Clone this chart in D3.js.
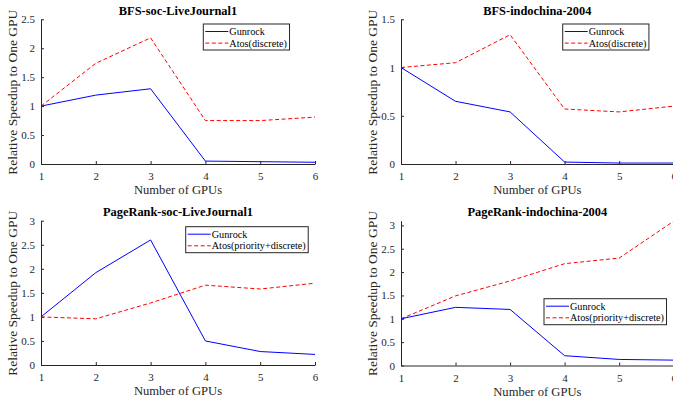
<!DOCTYPE html>
<html>
<head>
<meta charset="utf-8">
<script src="https://cdn.jsdelivr.net/npm/d3@7"></script>
<style>
  body { margin: 0; background: #fff; }
  svg { display: block; }
</style>
</head>
<body>
<div id="vis-container"></div>
<script>
(() => {

    ////////////////////////////////////
    /////////////// Data ///////////////
    ////////////////////////////////////

    const gpus = [1, 2, 3, 4, 5, 6]

    const bfsLjGunrock = [1.0, 1.19, 1.30, 0.05, 0.04, 0.03]
    const bfsLjAtos = [1.0, 1.74, 2.18, 0.75, 0.75, 0.81]

    const bfsIndoGunrock = [1.0, 0.65, 0.54, 0.02, 0.01, 0.01]
    const bfsIndoAtos = [1.0, 1.05, 1.34, 0.57, 0.54, 0.60]

    const prLjGunrock = [1.0, 1.92, 2.60, 0.50, 0.28, 0.22]
    const prLjAtos = [1.0, 0.96, 1.29, 1.66, 1.58, 1.70]

    const prIndoGunrock = [1.0, 1.245, 1.20, 0.21, 0.13, 0.115]
    const prIndoAtos = [1.0, 1.49, 1.81, 2.18, 2.30, 3.09]

    const titles = ['BFS-soc-LiveJournal1', 'BFS-indochina-2004', 'PageRank-soc-LiveJournal1', 'PageRank-indochina-2004']
    const atosNames = ['Atos(discrete)', 'Atos(discrete)', 'Atos(priority+discrete)', 'Atos(priority+discrete)']
    const yMax = [2.5, 1.5, 3, 3.1]
    const yTicks = [
        [0, 0.5, 1, 1.5, 2, 2.5],
        [0, 0.5, 1, 1.5],
        [0, 0.5, 1, 1.5, 2, 2.5, 3],
        [0, 0.5, 1, 1.5, 2, 2.5, 3]
    ]

    ////////////////////////////////////
    ///////////// SVG Setup ////////////
    ////////////////////////////////////

    const svgWidth = 673
    const svgHeight = 400

    const svg = d3.select('#vis-container')
        .append('svg')
        .attr('width', svgWidth)
        .attr('height', svgHeight)

    const FONT = "'Liberation Serif', 'Times New Roman', serif"
    const axisColor = '#262626'

    // plot area of each panel + legend placement (px, relative to plot area)
    const panels = [
        { left: 41, top: 19.3, bottom: 164, w: 274, gun: bfsLjGunrock, atos: bfsLjAtos, legX: 162.3, legY: 4.7 },
        { left: 401, top: 19.3, bottom: 164, w: 272.7, gun: bfsIndoGunrock, atos: bfsIndoAtos, legX: 161.7, legY: 4.7 },
        { left: 41, top: 220.7, bottom: 365, w: 274, gun: prLjGunrock, atos: prLjAtos, legX: 144.7, legY: 6 },
        { left: 401, top: 220.7, bottom: 365.5, w: 272.7, gun: prIndoGunrock, atos: prIndoAtos, legX: 143, legY: 78 }
    ]

    ////////////////////////////////////
    ///////////// Panels ///////////////
    ////////////////////////////////////

    panels.forEach((p, i) => {
        const h = p.bottom - p.top
        const plotWidth = p.w
        const g = svg.append('g')
            .attr('transform', `translate(${p.left},${p.top})`)

        let xScale = d3.scaleLinear()
            .domain([1, 6])
            .range([0, plotWidth])

        let yScale = d3.scaleLinear()
            .domain([0, yMax[i]])
            .range([h, 0])

        // axes, ticks pointing inwards
        let xAxis = d3.axisBottom(xScale)
            .tickValues(gpus)
            .tickFormat(d3.format('d'))
            .tickSizeInner(-3)
            .tickSizeOuter(0)
            .tickPadding(6)

        let yAxis = d3.axisLeft(yScale)
            .tickValues(yTicks[i])
            .tickFormat(d => String(d))
            .tickSizeInner(-3)
            .tickSizeOuter(0)
            .tickPadding(6)

        const gx = g.append('g')
            .attr('transform', `translate(0,${h})`)
            .call(xAxis)
        const gy = g.append('g').call(yAxis)

        ;[gx, gy].forEach(a => {
            a.attr('font-family', null).attr('font-size', null)
            a.select('.domain').attr('stroke', axisColor).attr('stroke-width', 1)
            a.selectAll('.tick line').attr('stroke', axisColor)
            a.selectAll('.tick text')
                .attr('fill', axisColor)
                .style('font-size', '11px')
                .style('font-family', FONT)
        })
        gx.selectAll('.tick text').attr('dy', '0.95em')

        // title
        g.append('text')
            .attr('x', plotWidth / 2)
            .attr('y', -4.5)
            .attr('text-anchor', 'middle')
            .style('font-family', FONT)
            .style('font-size', '12.4px')
            .style('font-weight', 'bold')
            .attr('fill', '#000')
            .text(titles[i])

        // axis labels
        g.append('text')
            .attr('x', plotWidth / 2)
            .attr('y', h + 30.5)
            .attr('text-anchor', 'middle')
            .style('font-family', FONT)
            .style('font-size', '12.6px')
            .attr('fill', axisColor)
            .text('Number of GPUs')

        g.append('text')
            .attr('transform', `translate(${-24.5},${h / 2 + 0.5}) rotate(-90)`)
            .attr('text-anchor', 'middle')
            .style('font-family', FONT)
            .style('font-size', '13.5px')
            .attr('fill', axisColor)
            .text('Relative Speedup to One GPU')

        // lines
        const line = vals => d3.line()
            .x((d, j) => xScale(gpus[j]))
            .y(d => yScale(d))(vals)

        g.append('path')
            .attr('d', line(p.atos))
            .attr('fill', 'none')
            .attr('stroke', '#ff0000')
            .attr('stroke-width', 1)
            .attr('stroke-dasharray', '4,2.5')

        g.append('path')
            .attr('d', line(p.gun))
            .attr('fill', 'none')
            .attr('stroke', '#0000ff')
            .attr('stroke-width', 1)

        // legend
        const leg = g.append('g')
            .attr('transform', `translate(${p.legX},${p.legY})`)
        const box = leg.append('rect')
            .attr('fill', '#fff')
            .attr('stroke', '#262626')
            .attr('stroke-width', 1)
            .attr('height', 26)

        const items = [
            { name: 'Gunrock', color: '#0000ff', dash: 'none' },
            { name: atosNames[i], color: '#ff0000', dash: '4,2.5' }
        ]
        let maxLen = 0
        items.forEach((it, k) => {
            const cy = 7.5 + k * 11.6
            leg.append('line')
                .attr('x1', 2).attr('x2', 25)
                .attr('y1', cy).attr('y2', cy)
                .attr('stroke', it.color)
                .attr('stroke-width', 1)
                .attr('stroke-dasharray', it.dash)
            const t = leg.append('text')
                .attr('x', 26)
                .attr('y', cy + 3.6)
                .style('font-family', FONT)
                .style('font-size', '10.2px')
                .attr('fill', '#000')
                .text(it.name)
            maxLen = Math.max(maxLen, t.node().getComputedTextLength())
        })
        box.attr('width', 26 + maxLen + 2.5)
    })

})()
</script>
</body>
</html>
